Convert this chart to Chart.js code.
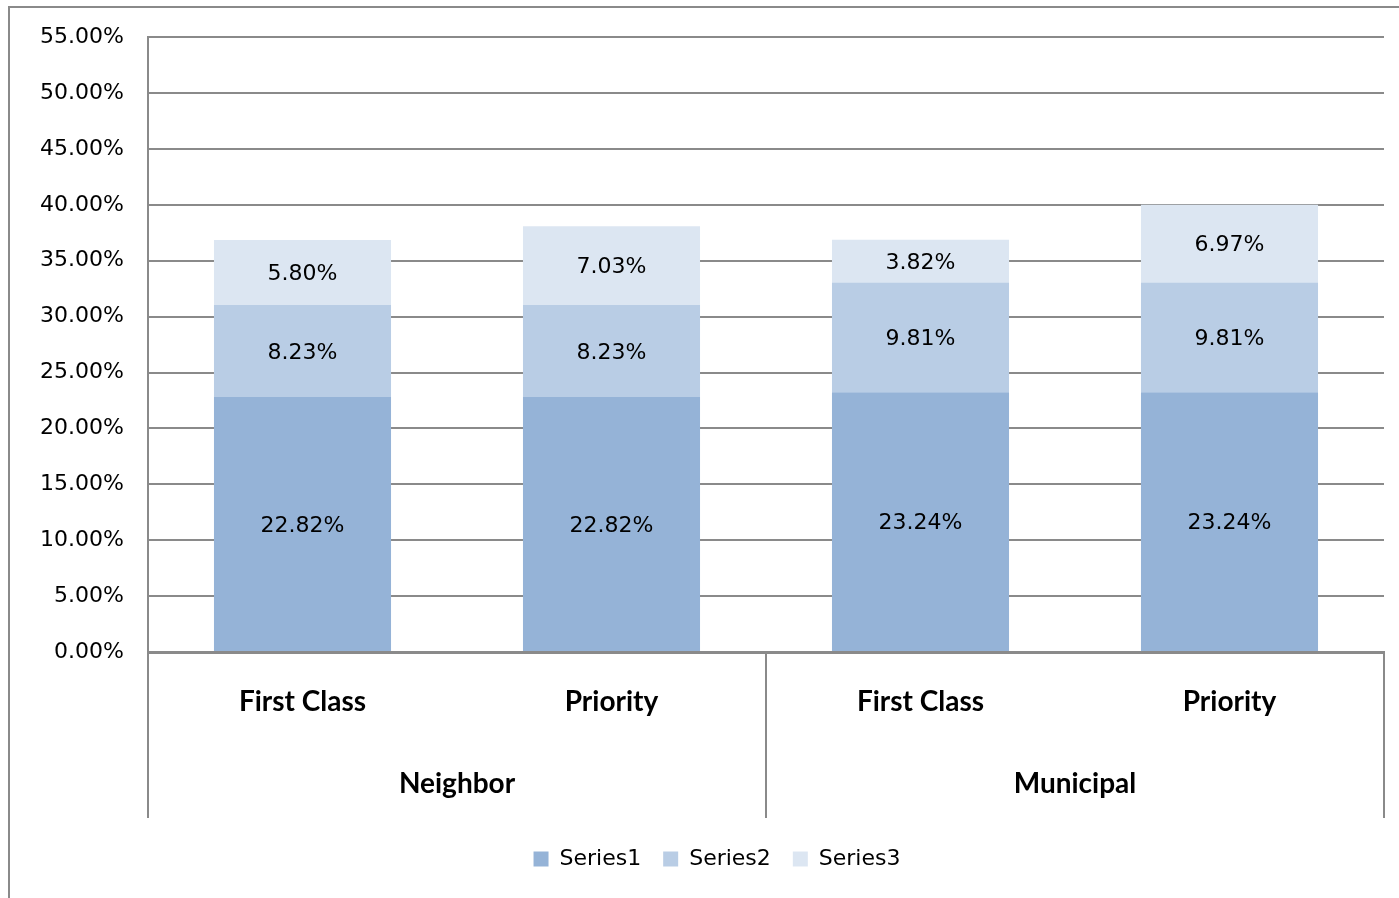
<!DOCTYPE html>
<html>
<head>
<meta charset="utf-8">
<script src="https://cdn.jsdelivr.net/npm/chart.js@4/dist/chart.umd.min.js"></script>
<style>
  html, body { margin: 0; padding: 0; background: #fff; }
  #wrap { width: 1399px; height: 898px; }
</style>
</head>
<body>
<div id="wrap"><canvas id="chart"></canvas></div>
<script>
// data
const categories = ['First Class', 'Priority', 'First Class', 'Priority'];
const groups = ['Neighbor', 'Municipal'];
const series1 = [22.82, 22.82, 23.24, 23.24];
const series2 = [8.23, 8.23, 9.81, 9.81];
const series3 = [5.80, 7.03, 3.82, 6.97];
const yTicks = [0, 5, 10, 15, 20, 25, 30, 35, 40, 45, 50, 55];

const tickFont = { family: 'DejaVu Sans', size: 22 };
const gridGray = '#8a8a8a';

// frame round the whole chart
const framePlugin = {
    id: 'frame',
    beforeDraw(chart) {
        const ctx = chart.ctx;
        ctx.save();
        ctx.fillStyle = '#fff';
        ctx.fillRect(0, 0, chart.width, chart.height);
        ctx.strokeStyle = gridGray;
        ctx.lineWidth = 2;
        ctx.strokeRect(9, 7, chart.width + 20, chart.height + 20);
        ctx.restore();
    }
};

// nudge the legend a little to the right, like the original
const legendShift = {
    id: 'legendShift',
    afterLayout(chart) {
        if (chart.legend) {
            chart.legend.left += 25;
            chart.legend.right += 25;
        }
    }
};

// percent labels centred in each segment
const barLabels = {
    id: 'barLabels',
    afterDatasetsDraw(chart) {
        const ctx = chart.ctx;
        ctx.save();
        ctx.font = '22px "DejaVu Sans"';
        ctx.fillStyle = '#000';
        ctx.textAlign = 'center';
        ctx.textBaseline = 'middle';
        chart.data.datasets.forEach((ds, i) => {
            chart.getDatasetMeta(i).data.forEach((bar, j) => {
                const y = (bar.y + bar.base) / 2 + 2;
                ctx.fillText(ds.data[j].toFixed(2) + '%', bar.x, y);
            });
        });
        ctx.restore();
    }
};

// two level category axis
const twoLevelAxis = {
    id: 'twoLevelAxis',
    afterDraw(chart) {
        const ctx = chart.ctx;
        const x = chart.scales.x;
        const top = chart.chartArea.bottom;
        const bottom = 818;
        ctx.save();
        ctx.strokeStyle = gridGray;
        ctx.lineWidth = 2;
        const edges = [x.getPixelForValue(-0.5), x.getPixelForValue(1.5), x.getPixelForValue(3.5)];
        edges.forEach(px => {
            ctx.beginPath();
            ctx.moveTo(px, top);
            ctx.lineTo(px, bottom);
            ctx.stroke();
        });
        ctx.fillStyle = '#000';
        ctx.textAlign = 'center';
        ctx.textBaseline = 'middle';
        ctx.font = 'bold 28px Lato';
        categories.forEach((c, i) => {
            ctx.fillText(c, x.getPixelForValue(i), 702);
        });
        groups.forEach((g, i) => {
            ctx.fillText(g, x.getPixelForValue(i * 2 + 0.5), 784);
        });
        ctx.restore();
    }
};

const chartCanvas = document.querySelector('#chart');

const chart = new Chart(chartCanvas, {
    type: 'bar',
    data: {
        labels: categories,
        datasets: [
            { label: 'Series1', data: series1, backgroundColor: '#95b3d7' },
            { label: 'Series2', data: series2, backgroundColor: '#b9cde5' },
            { label: 'Series3', data: series3, backgroundColor: '#dce6f2' }
        ]
    },
    options: {
        responsive: true,
        maintainAspectRatio: false,
        animation: false,
        datasets: {
            bar: { categoryPercentage: 1, barPercentage: 0.573, borderWidth: 0 }
        },
        layout: { padding: { top: 37, right: 15, bottom: 18, left: 0 } },
        plugins: {
            legend: {
                position: 'bottom',
                labels: {
                    font: tickFont,
                    color: '#000',
                    boxWidth: 15,
                    boxHeight: 15,
                    padding: 22
                }
            },
            tooltip: { enabled: false }
        },
        scales: {
            x: {
                stacked: true,
                ticks: { display: false },
                grid: { display: false },
                border: { color: gridGray, width: 3 },
                afterFit(scale) { scale.height = 174; }
            },
            y: {
                stacked: true,
                min: 0,
                max: 55,
                afterBuildTicks(scale) {
                    scale.ticks = yTicks.map(v => ({ value: v }));
                },
                afterFit(scale) { scale.width = 148; },
                ticks: {
                    font: tickFont,
                    color: '#000',
                    padding: 24,
                    callback: v => v.toFixed(2) + '%'
                },
                grid: { color: gridGray, lineWidth: 2, drawTicks: false },
                border: { color: gridGray, width: 2 }
            }
        }
    },
    plugins: [framePlugin, legendShift, barLabels, twoLevelAxis]
});
</script>
</body>
</html>
